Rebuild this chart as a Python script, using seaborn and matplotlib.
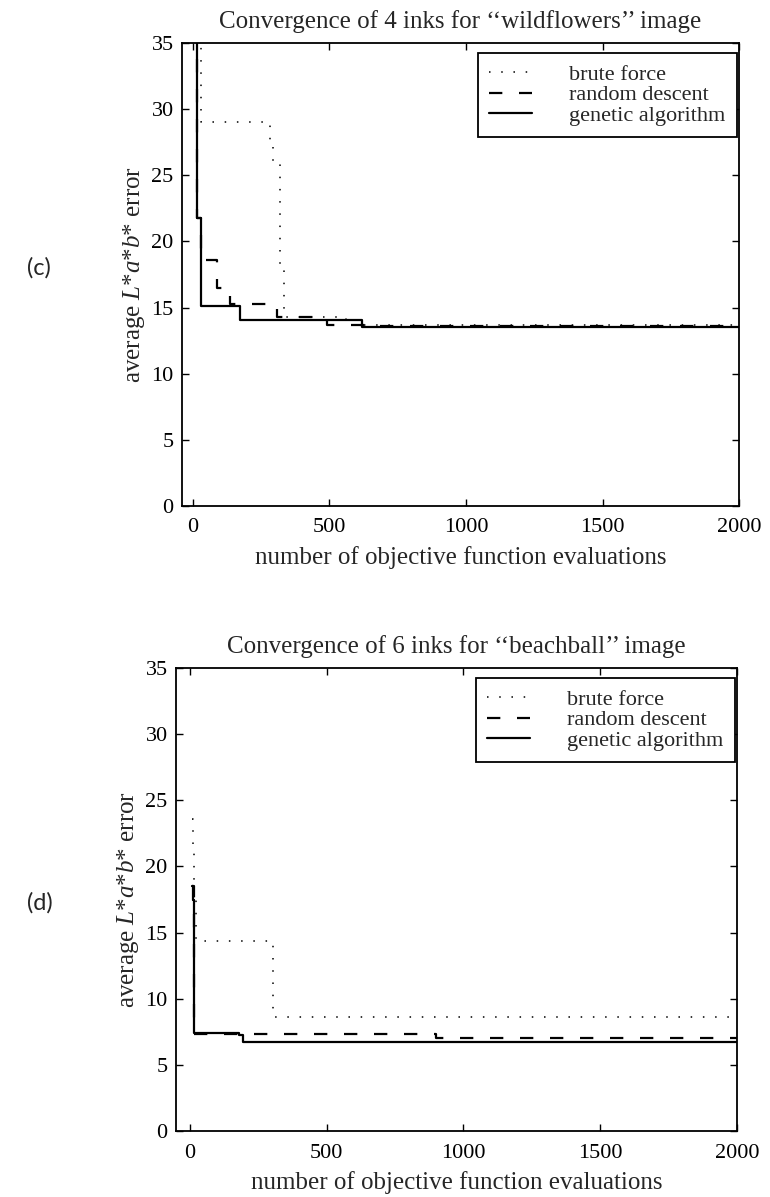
import matplotlib
matplotlib.use("Agg")
import matplotlib.pyplot as plt
import seaborn as sns

# best error so far, recorded at the evaluation where it drops (step plot)
# (c) 4 inks, "wildflowers"
wf_brute_x = [0, 28, 282, 294, 319, 334, 560, 2000]
wf_brute_y = [45, 29.05, 27.5, 25.9, 18.1, 14.3, 13.65, 13.65]
wf_random_x = [0, 16, 28, 87, 135, 307, 490, 630, 2000]
wf_random_y = [45, 21.8, 18.6, 16.5, 15.3, 14.3, 13.7, 13.6, 13.6]
wf_genetic_x = [0, 16, 28, 172, 620, 2000]
wf_genetic_y = [45, 21.8, 15.1, 14.05, 13.55, 13.55]

# (d) 6 inks, "beachball"
bb_brute_x = [10, 13, 17, 24, 305, 2000]
bb_brute_y = [23.6, 21.0, 18.0, 14.4, 8.6, 8.6]
bb_random_x = [10, 15, 900, 2000]
bb_random_y = [18.5, 7.35, 7.05, 7.05]
bb_genetic_x = [10, 12, 15, 180, 195, 2000]
bb_genetic_y = [18.5, 17.5, 7.4, 7.25, 6.75, 6.75]

methods = ["brute force", "random descent", "genetic algorithm"]
titles = ["Convergence of 4 inks for \u2018\u2018wildflowers\u2019\u2019 image",
          "Convergence of 6 inks for \u2018\u2018beachball\u2019\u2019 image"]
panel_tags = ["(c)", "(d)"]

sns.set_style("ticks")
plt.rcParams["font.family"] = ["Liberation Serif", "DejaVu Serif"]
plt.rcParams["mathtext.fontset"] = "custom"
plt.rcParams["mathtext.rm"] = "Liberation Serif"
plt.rcParams["mathtext.it"] = "Liberation Serif:italic"

fig = plt.figure(figsize=(7.7, 11.97), dpi=100)
ax1 = fig.add_axes([0.2364, 0.5773, 0.7234, 0.3868])
ax2 = fig.add_axes([0.2286, 0.0551, 0.7286, 0.3868])

styles = [(0, (1, 7)), (0, (6, 7.5)), "-"]
widths = [1.1, 1.6, 1.6]

panels = [
    (ax1, [(wf_brute_x, wf_brute_y), (wf_random_x, wf_random_y), (wf_genetic_x, wf_genetic_y)], -40),
    (ax2, [(bb_brute_x, bb_brute_y), (bb_random_x, bb_random_y), (bb_genetic_x, bb_genetic_y)], -50),
]

for i, (ax, series, xmin) in enumerate(panels):
    for (xs, ys), name, ls, lw in zip(series, methods, styles, widths):
        sns.lineplot(x=xs, y=ys, ax=ax, color="black", linestyle=ls, linewidth=lw,
                     drawstyle="steps-post", label=name)
    ax.set_xlim(xmin, 2000)
    ax.set_ylim(0, 35)
    ax.set_xticks([0, 500, 1000, 1500, 2000])
    ax.set_yticks(range(0, 36, 5))
    ax.tick_params(direction="in", top=True, right=True, length=5, width=1.0,
                   labelsize=16, colors="black")
    ax.tick_params(axis="x", pad=9)
    ax.tick_params(axis="y", pad=6)
    for sp in ax.spines.values():
        sp.set_linewidth(1.3)
        sp.set_color("black")
    ax.set_title(titles[i], fontsize=18, pad=11)
    ax.set_xlabel("number of objective function evaluations", fontsize=18, labelpad=6)
    ax.set_ylabel("average $L$*$a$*$b$* error", fontsize=18, labelpad=3)
    leg = ax.legend(loc="upper right", bbox_to_anchor=(0.996, 0.978), borderaxespad=0,
                    fontsize=16, fancybox=False, edgecolor="black", framealpha=1,
                    handlelength=1.9, handletextpad=1.7, labelspacing=0.0, borderpad=0.5)
    leg.get_frame().set_linewidth(1.3)

fig.text(0.035, 1 - 268 / 1197, panel_tags[0], fontsize=17, family="Lato", va="center")
fig.text(0.035, 1 - 903 / 1197, panel_tags[1], fontsize=17, family="Lato", va="center")

fig.savefig("out.png", dpi=100, facecolor="white")
